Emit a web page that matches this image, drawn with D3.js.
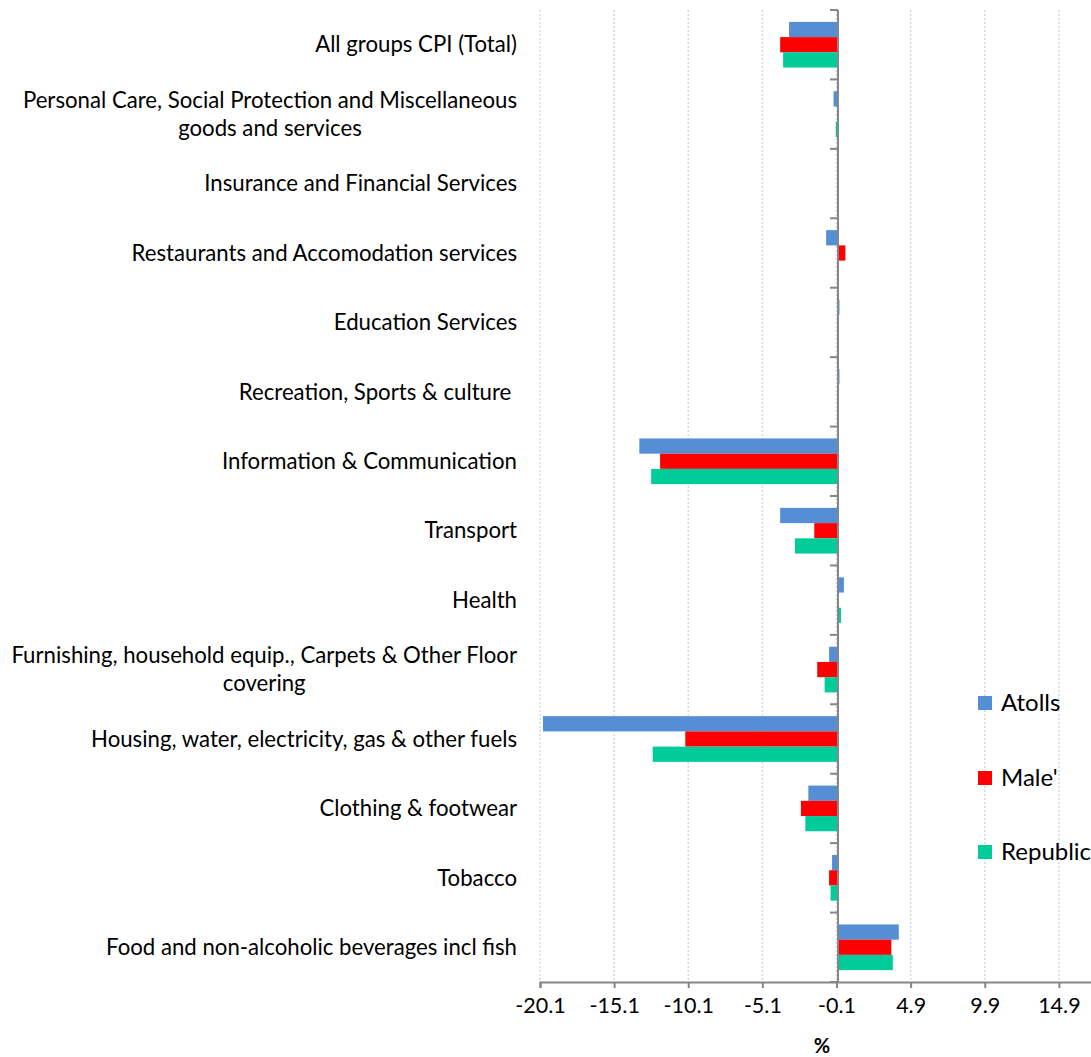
<!DOCTYPE html>
<html>
<head>
<meta charset="utf-8">
<script src="https://cdn.jsdelivr.net/npm/d3@7"></script>
<style>
  html, body { margin: 0; padding: 0; background: #fff; }
  svg { display: block; font-family: Lato, "Open Sans", sans-serif; }
</style>
</head>
<body>
<svg id="chart" width="1091" height="1057"></svg>
<script>
const categories = [
  "All groups CPI (Total)",
  "Personal Care, Social Protection and Miscellaneous\ngoods and services",
  "Insurance and Financial Services",
  "Restaurants and Accomodation services",
  "Education Services",
  "Recreation, Sports & culture ",
  "Information & Communication",
  "Transport",
  "Health",
  "Furnishing, household equip., Carpets & Other Floor\ncovering",
  "Housing, water, electricity, gas & other fuels",
  "Clothing & footwear",
  "Tobacco",
  "Food and non-alcoholic beverages incl fish"
];
const seriesNames = ["Atolls", "Male'", "Republic"];
const atolls   = [-3.3, -0.3, 0, -0.8, 0.1, 0.1, -13.4, -3.9, 0.4, -0.6, -19.9, -2.0, -0.4, 4.1];
const male     = [-3.9, 0, 0, 0.5, 0, 0, -12.0, -1.6, 0.05, -1.4, -10.3, -2.5, -0.6, 3.6];
const republic = [-3.7, -0.15, 0, 0, 0, 0, -12.6, -2.9, 0.2, -0.9, -12.5, -2.2, -0.5, 3.7];
const xTicks = [-20.1, -15.1, -10.1, -5.1, -0.1, 4.9, 9.9, 14.9];
const xDomain = [-20.1, 19.9];
const axisTitle = "%";

const colors = ["#558ED5", "#FF0000", "#00CC99"];
const seriesValues = [atolls, male, republic];

const svg = d3.select("#chart");
svg.append("rect").attr("width", 1091).attr("height", 1057).attr("fill", "#fff");

const plotLeft = 540, plotRight = 1133, plotTop = 10, plotBottom = 982;

const x = d3.scaleLinear().domain(xDomain).range([plotLeft, plotRight]);
const y = d3.scaleBand().domain(categories).range([plotTop, plotBottom]).paddingInner(0).paddingOuter(0);
const y1 = d3.scaleBand().domain(seriesNames).range([0, y.bandwidth()]).paddingInner(0).paddingOuter(0.78);

// gridlines
svg.append("g").selectAll("line").data(xTicks).join("line")
  .attr("x1", d => x(d)).attr("x2", d => x(d))
  .attr("y1", plotTop).attr("y2", plotBottom)
  .attr("stroke", "#ccd8ee").attr("stroke-width", 1.4)
  .attr("stroke-dasharray", "2,2");

// bars
const rows = categories.map((c, i) => ({ cat: c, vals: seriesNames.map((s, j) => ({ s, j, v: seriesValues[j][i] })) }));
const groups = svg.append("g").selectAll("g").data(rows).join("g")
  .attr("transform", d => `translate(0,${y(d.cat)})`);
groups.selectAll("rect").data(d => d.vals).join("rect")
  .attr("x", d => Math.min(x(0), x(d.v)))
  .attr("width", d => Math.abs(x(d.v) - x(0)))
  .attr("y", d => y1(d.s))
  .attr("height", y1.bandwidth())
  .attr("fill", d => colors[d.j]);

// vertical (category) axis
const axisColor = "#868686";
svg.append("line")
  .attr("x1", x(0)).attr("x2", x(0))
  .attr("y1", plotTop).attr("y2", plotBottom)
  .attr("stroke", axisColor).attr("stroke-width", 2);
const boundaries = categories.map(c => y(c)).concat([y.range()[1]]);
svg.append("g").selectAll("line").data(boundaries).join("line")
  .attr("x1", x(0) - 8).attr("x2", x(0))
  .attr("y1", d => d).attr("y2", d => d)
  .attr("stroke", axisColor).attr("stroke-width", 2);

// horizontal value axis
const fmt = d => d.toFixed(1);
const xAxis = d3.axisBottom(x).tickValues(xTicks).tickFormat(fmt).tickSize(6).tickPadding(10);
const gx = svg.append("g").attr("transform", `translate(0,${plotBottom})`).call(xAxis);
gx.select(".domain").attr("stroke", axisColor).attr("stroke-width", 2);
gx.selectAll(".tick line").attr("stroke", axisColor).attr("stroke-width", 2);
gx.selectAll(".tick text")
  .attr("fill", "#000").attr("font-size", 21.5)
  .attr("font-family", "Lato, 'Open Sans', sans-serif");

svg.append("text")
  .attr("x", 822).attr("y", 1048)
  .attr("text-anchor", "middle").attr("dominant-baseline", "middle")
  .attr("font-size", 20).attr("font-weight", "bold").attr("fill", "#000")
  .text(axisTitle);

// category labels
const labelX = plotLeft - 23;
const labels = svg.append("g").selectAll("text").data(categories).join("text")
  .attr("font-size", 22.2).attr("fill", "#000")
  .style("white-space", "pre")
  .attr("transform", d => `translate(${labelX},${y(d) + y.bandwidth() / 2})`);
labels.each(function(d) {
  const lines = d.split("\n");
  const t = d3.select(this);
  if (lines.length === 1) {
    t.append("tspan").attr("x", 0).attr("y", 0).attr("dy", "0.35em")
      .attr("text-anchor", "end").text(lines[0]);
  } else {
    const first = t.append("tspan").attr("x", 0).attr("y", -14).attr("dy", "0.35em")
      .attr("text-anchor", "end").text(lines[0]);
    const w = first.node().getComputedTextLength();
    t.append("tspan").attr("x", -w / 2).attr("y", 14).attr("dy", "0.35em")
      .attr("text-anchor", "middle").text(lines[1]);
  }
});

// legend
const legendY = [703, 778, 852];
const legend = svg.append("g").selectAll("g").data(seriesNames).join("g")
  .attr("transform", (d, i) => `translate(978,${legendY[i]})`);
legend.append("rect").attr("x", 0).attr("y", -7).attr("width", 14).attr("height", 14)
  .attr("fill", (d, i) => colors[i]);
legend.append("text").attr("x", 23).attr("y", 0).attr("dy", "0.35em")
  .attr("font-size", 24).attr("fill", "#000").text(d => d);
</script>
</body>
</html>
